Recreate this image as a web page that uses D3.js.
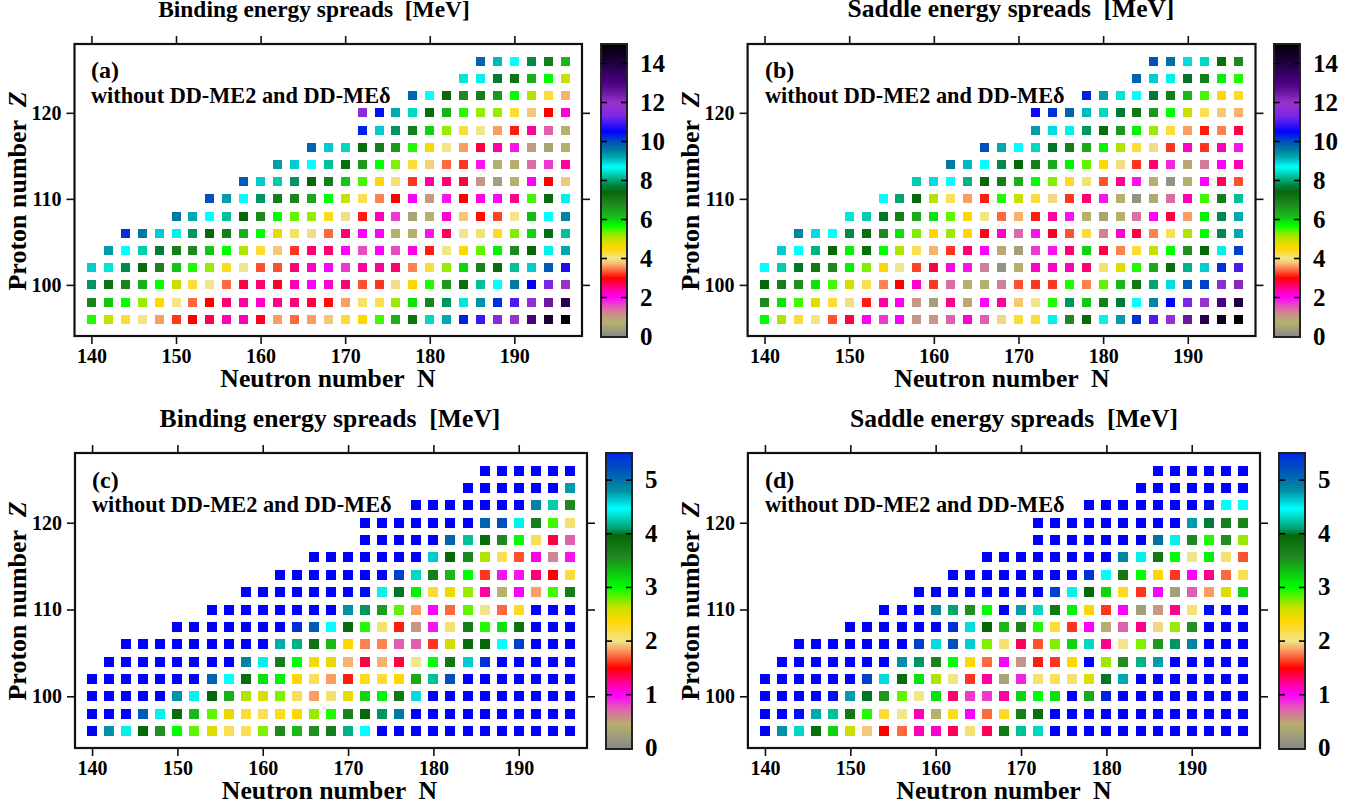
<!DOCTYPE html>
<html><head><meta charset="utf-8">
<script src="https://cdn.jsdelivr.net/npm/d3@7"></script>
<style>html,body{margin:0;padding:0;background:#fff}svg{display:block}text{font-family:"Liberation Serif",serif;font-weight:bold;fill:#000}</style>
</head><body><svg id="c" width="1372" height="810"></svg>
<script>
// Grid rows (Z) and first neutron number on each row
const protonRows=[96,98,100,102,104,106,108,110,112,114,116,118,120,122,124,126];
const rowStartN=[140,140,140,140,142,144,150,154,158,162,166,172,172,178,184,186];
const nTicks=[140,150,160,170,180,190];
const zTicks=[100,110,120];
const upperBarTicks=[0,2,4,6,8,10,12,14];
const lowerBarTicks=[0,1,2,3,4,5];
// Colour scale
const paletteValues=[0,0.7,1.1,1.5,2,2.4,2.8,3,3.3,3.6,3.8,4,4.3,4.5,5,5.3,5.7,6.2,6.8,7.4,7.7,8.2,8.7,9.2,9.6,10,10.5,11.3,12,12.5,13,14,15];
const paletteColors=["#888888","#b5b06e","#c89488","#e060b0","#ff00ff","#ff00a0","#ff0040","#ff0000","#ff5030","#fb9c60","#f5c878","#f2e488","#fbdc38","#ffd800","#c8e000","#80f000","#00ff00","#18b818","#208820","#066808","#007c38","#00c098","#00ffff","#00a8b0","#0078a0","#0050c0","#0000ff","#7a28e8","#9932cc","#6a18a0","#4b0082","#200040","#000000"];
const lowerBarValues=[0,0.45,0.74,1,1.2,1.5,1.83,2,2.38,2.63,3,3.57,3.97,4.1,4.47,4.8,5.16,5.5];
const lowerBarColors=["#888888","#b5b06e","#e060b0","#ff00ff","#ff00a0","#ff0000","#fb9c60","#f2e488","#ffd800","#c8e000","#00ff00","#208820","#066808","#00a070","#00ffff","#0090a0","#0058b8","#0028e8"];

// Panel (a) binding spreads, rows Z=96..126
const spreadA=[
[5.6,5.0,4.3,4.0,3.6,3.2,3.0,2.7,2.3,2.3,2.9,3.6,3.4,3.6,3.8,4.3,4.5,5.5,6.3,7.2,8.4,9.2,10.3,10.9,11.6,12,13,14.2,15],
[6.9,6.1,5.7,5.2,4.5,4.0,3.4,3.0,2.6,2.4,2.2,2.5,2.6,2.8,3.05,3.6,4.1,4.2,5.2,5.9,6.9,7.9,8.5,9.4,10.2,11,11.8,12.5,13.8],
[7.9,7.2,6.9,6.3,5.7,5.0,4.3,4.0,3.4,2.8,2.6,2.9,2.3,2.0,2.2,2.6,3.3,3.2,3.95,4.5,5.6,6.6,7.3,8.2,8.7,9.6,10.5,11.3,12],
[9.0,8.5,7.8,7.3,6.9,6.1,5.6,5.2,4.4,4.0,3.3,3.3,2.6,2.2,2.0,1.7,2.4,2.4,2.6,3.5,4.3,5.2,6.0,6.9,7.3,8.2,9.0,9.9,10.7],
[9.3,8.7,8.3,7.7,7.0,6.8,6.1,5.7,5.1,4.3,3.8,3.2,2.6,2.6,2.0,1.6,2.0,1.6,2.1,3.1,4.0,4.5,5.4,5.8,6.8,7.4,8.6,9.2],
[10.2,9.6,9,8.6,7.9,7.4,7,6.3,5.7,4.7,4.2,3.95,3.4,2.6,2.0,2.0,0.7,0.7,1.9,2.7,4.0,4.1,4.4,5.3,6.0,7.5,8.2],
[9.6,9.2,8.7,8.2,7.4,6.8,5.7,5.4,5.2,4.4,3.95,3.1,2.3,1.7,0.5,0.7,2.2,3.8,3.05,3.25,4.0,6.2,8.7,9.5],
[10,9.3,8.7,7.9,7,6.9,6.4,5.7,5.0,4.2,3.5,3,2.0,1.0,1.9,3,2.1,2,2.5,5.5,7.3,8.6],
[9.9,9.0,8.3,7.9,7.4,7.0,6.1,5.5,4.5,4.1,3.2,2.4,2.6,2.8,1.1,0.4,0.7,2.0,3.0,3.8],
[9.3,9,8.7,8.2,7.3,6.6,5.7,5.3,4.3,3.85,3.4,3.2,1.9,0.7,0.7,1.4,1.7,2.4],
[9.8,9,8.4,7.3,7,6.6,5.6,4.6,4,3.6,2.8,2.4,1.9,1.0,0.5,0.7],
[10.3,9,7.9,7,6,5.2,4.3,4,3.6,3.1,2.4,1.5,0.7],
[11.7,10.4,9.2,8.4,7.3,6.3,5.6,5.2,5.2,4.3,3.8,3.0,2.2],
[9.8,8.7,7.4,6.8,7,6.6,5.7,5.1,4.3,3.7],
[8.5,8.6,7.7,7.2,6.3,5.7,5],
[9.8,9.1,8.7,7.8,7,6.2]];

// Panel (b) saddle spreads
const spreadB=[
[5.7,5.1,4.3,4,3.3,2.8,2,1.7,2.0,1.1,1.05,1.5,2.2,1.5,3.9,4.3,4.3,8.6,6.8,7.4,8.6,9.3,10.2,11,11.9,12.5,13.8,14.5,15],
[6.8,5.9,5.5,4.8,4.3,3.95,3.1,2.4,2.1,1.05,0.4,2.5,0.85,2,2.4,3.8,4.0,5.6,7.9,6.1,7,7.7,8.7,9.5,10.5,11.3,12,13,14],
[7.4,7,6.7,5.9,5.5,4.9,4.2,3.5,3,2.2,3.2,1.4,0.7,0.7,1.25,3.3,3.2,3.2,5.6,3.5,5.4,6.2,7.1,8,8.9,9.9,10.1,11.7,12.2],
[8.7,8.3,7.6,7.1,6.8,5.8,5.3,4.5,4,3.25,2.8,2.1,1.9,1.25,0.2,0.7,2.2,2.2,2.3,2.6,4.1,4.8,5.6,6.4,7.3,8.1,9,10.2,11],
[9,8.7,8.1,7.4,5.8,7.3,5.7,5.1,4.2,3.7,3.2,2.6,2,0.85,0.4,1.7,1.9,2.6,6,2.8,3.5,4.3,5,5.7,6.7,7.4,8.6,10.1],
[9.5,8.9,8.7,7.8,7.3,6.8,5.9,5.3,4.5,5.2,4.5,2.9,2.2,1.45,1.9,2.9,3.3,4.3,1.25,2.2,2.8,3.5,4.2,5.1,5.7,7.8,9.2],
[8.5,8.3,7.6,7,6.4,5.9,5.4,4.5,4,3.4,3.7,3.1,2.4,1.9,0.7,0.5,0.7,1.35,2,2.8,3.6,5.8,7.8,9.2],
[8.7,8,7.4,5.1,4.2,3.6,3.1,5.6,5,4.3,3.9,3.2,2.6,1.9,0.7,0.2,0.6,1.4,2.3,5.5,7,8.2],
[8.3,8.9,8.7,8.1,7.4,7,6.3,5.7,5.3,4.4,4.1,3.3,2.5,1.9,0.7,0.2,0.7,2,2.7,3.3],
[9.6,9.1,8.7,7.8,7.4,7,6.4,5.8,5.4,4.5,3.95,3.2,2.6,1.8,0.85,1.3,2,2.3],
[10,9.2,8.7,8.4,7.6,7,6.4,5.8,5.1,4.3,3.95,3.2,2.2,3.2,2.3,1.9],
[9.3,8.9,8.6,7.9,7.3,6.6,5.8,5.2,4.3,3.6,3.1,3.5,2.8],
[10.6,10.2,9.8,9.1,8.4,7.7,7.1,6.6,5.7,5,4.2,3.8,3.7],
[10.3,9.3,8.5,8.7,7.7,7,6.2,5.5,4.5,4.4],
[9.8,9,8.6,7.6,7,5.8,5.6],
[10,9.7,8.9,8.4,7.3,6.8]];

// Panel (c) binding spreads, blue = above the scale top
const spreadC=[
[5.5,4.7,4.3,3.7,3.35,2.85,2.7,2.4,2.1,2.1,2.65,3.4,3.1,3.35,3.5,4.05,4.35,5.5,5.5,5.5,5.5,5.5,5.5,5.5,5.5,5.5,5.5,5.5,5.5],
[5.5,5.5,5.5,4.95,4.3,3.65,3.1,2.7,2.35,2.15,2.1,2.2,2.25,2.6,2.8,3.45,3.7,3.95,4.8,5.5,5.5,5.5,5.5,5.5,5.5,5.5,5.5,5.5,5.5],
[5.5,5.5,5.5,5.5,5.5,4.7,4.3,3.7,3.15,2.55,2.4,2.65,2.1,1.8,2.05,2.35,3,2.9,3.55,4.45,5.5,5.5,5.5,5.5,5.5,5.5,5.5,5.5,5.5],
[5.5,5.5,5.5,5.5,5.5,5.5,5.5,4.9,4.35,3.65,2.95,2.9,2.25,2.1,1.8,1.55,2.2,2.15,2.25,3.2,4.1,5,5.5,5.5,5.5,5.5,5.5,5.5,5.5],
[5.5,5.5,5.5,5.5,5.5,5.5,5.5,5.5,4.75,4.3,3.5,2.85,2.3,2.35,1.85,1.4,1.85,1.4,2,2.85,3.55,4.5,5.1,5.5,5.5,5.5,5.5,5.5],
[5.5,5.5,5.5,5.5,5.5,5.5,5.5,5.5,5.5,4.6,4.05,3.6,3.1,2.25,1.75,1.75,0.75,0.75,1.6,2.45,3.65,3.7,4.35,5.05,5.5,5.5,5.5],
[5.5,5.5,5.5,5.5,5.5,5.5,5.5,5.1,4.95,4.35,3.65,2.8,2.05,1.55,0.55,0.95,2.05,3.5,2.8,2.95,3.6,5.5,5.5,5.5],
[5.5,5.5,5.5,5.5,5.5,5.5,5.5,5.5,4.7,3.95,3.25,2.7,1.8,1,1.7,2.7,2,1.7,2.2,5.5,5.5,5.5],
[5.5,5.5,5.5,5.5,5.5,5.5,5.5,5.2,4.3,3.8,2.9,2.15,2.35,2.6,1.2,0.35,1,1.8,2.75,3.5],
[5.5,5.5,5.5,5.5,5.5,5.5,5.5,5.05,4.2,3.5,3.1,2.85,1.6,0.95,0.95,1.3,1.5,2.15],
[5.5,5.5,5.5,5.5,5.5,5.5,5.5,4.5,3.7,3.4,2.55,2.1,1.65,1.05,0.6,0.95],
[5.5,5.5,5.5,5.5,5.5,4.9,4.1,3.65,3.4,2.85,2.1,1.4,0.75],
[5.5,5.5,5.5,5.5,5.5,5.5,5.5,4.9,5,4.3,3.5,2.75,2.05],
[5.5,5.5,5.5,5.5,5.5,5.5,5.5,4.75,4.15,3.4],
[5.5,5.5,5.5,5.5,5.5,5.5,4.65],
[5.5,5.5,5.5,5.5,5.5,5.5]];

// Panel (d) saddle spreads
const spreadD=[
[5.5,4.7,4.2,3.65,3,2.5,1.9,1.5,1.7,1.15,1.1,1.35,2.05,1.35,3.55,4.1,4.2,5.5,5.5,5.5,5.5,5.5,5.5,5.5,5.5,5.5,5.5,5.5,5.5],
[5.5,5.5,5.2,4.6,4.1,3.55,2.8,2.15,2,1.15,0.35,2.2,1,1.7,2.2,3.5,3.65,5.5,5.5,5.5,5.5,5.5,5.5,5.5,5.5,5.5,5.5,5.5,5.5],
[5.5,5.5,5.5,5.5,5.2,4.65,3.8,3.3,2.7,2,2.95,1.3,0.85,0.85,1.2,3,2.85,2.95,5.5,3.2,5.15,5.5,5.5,5.5,5.5,5.5,5.5,5.5,5.5],
[5.5,5.5,5.5,5.5,5.5,5.5,5.05,4.45,3.65,2.95,2.55,2,1.6,1.2,0.25,0.9,2.05,2.1,2.05,2.4,3.8,4.6,5.5,5.5,5.5,5.5,5.5,5.5,5.5],
[5.5,5.5,5.5,5.5,5.5,5.5,5.5,4.7,3.95,3.45,2.85,2.25,1.7,1,0.55,1.55,1.6,2.25,5.5,2.6,3.35,4.05,4.65,5.5,5.5,5.5,5.5,5.5],
[5.5,5.5,5.5,5.5,5.5,5.5,5.5,5.05,4.45,5,4.5,2.65,2.05,1.35,1.65,2.65,3,4.2,1.25,2,2.65,3.3,3.95,4.75,5.5,5.5,5.5],
[5.5,5.5,5.5,5.5,5.5,5.5,5.1,4.45,3.7,3.1,3.45,2.8,2.15,1.6,1,0.4,0.75,1.25,1.95,2.6,3.35,5.5,5.5,5.5],
[5.5,5.5,5.5,4.75,4,3.35,2.85,5.5,4.65,4.2,3.55,2.9,2.25,1.6,1,0.2,0.5,1.25,2.05,5.2,5.5,5.5],
[5.5,5.5,5.5,5.5,5.5,5.5,5.5,5.5,5.05,4.3,3.7,3,2.2,1.6,1,0.2,0.75,1.8,2.4,3],
[5.5,5.5,5.5,5.5,5.5,5.5,5.5,5.5,5.1,4.35,3.55,2.85,2.25,1.6,1,1.25,1.7,2.1],
[5.5,5.5,5.5,5.5,5.5,5.5,5.5,5.5,4.75,4.3,3.55,2.85,2,2.9,2.05,1.65],
[5.5,5.5,5.5,5.5,5.5,5.5,5.5,4.85,4.3,3.4,2.8,3.35,2.6],
[5.5,5.5,5.5,5.5,5.5,5.5,5.5,5.5,5.5,4.65,3.85,3.5,3.45],
[5.5,5.5,5.5,5.5,5.5,5.5,5.5,5.2,4.35,4.35],
[5.5,5.5,5.5,5.5,5.5,5.5,5.5],
[5.5,5.5,5.5,5.5,5.5,5.5]];

const upperColor=d3.scaleLinear().domain(paletteValues).range(paletteColors).clamp(true).interpolate(d3.interpolateRgb);
const lowerValues=paletteValues.filter(v=>v<=10.5).map(v=>v/2);
const lowerColor=d3.scaleLinear().domain(lowerValues).range(paletteColors.slice(0,lowerValues.length)).clamp(true).interpolate(d3.interpolateRgb);
const lowerBarColor=d3.scaleLinear().domain(lowerBarValues).range(lowerBarColors).clamp(true).interpolate(d3.interpolateRgb);

const panels=[
 {tag:"(a)",title:"Binding energy spreads  [MeV]",data:spreadA,x0:74.5,x1:582,y0:336.5,y1:44,sq:9,color:upperColor,barColor:upperColor,barMax:15,barTicks:upperBarTicks,bx:601,tx:314,ty:17,titleFs:23.4,lab:91,xl:328,xly:387,yl:26,ylc:191,barlab:640,tagy:78,woy:103},
 {tag:"(b)",title:"Saddle energy spreads  [MeV]",data:spreadB,x0:747.6,x1:1255.5,y0:336.5,y1:44,sq:9,color:upperColor,barColor:upperColor,barMax:15,barTicks:upperBarTicks,bx:1274,tx:1011,ty:17,titleFs:25.5,lab:765,xl:1002,xly:387,yl:699,ylc:191,barlab:1313,tagy:78,woy:103},
 {tag:"(c)",title:"Binding energy spreads  [MeV]",data:spreadC,x0:75,x1:587,y0:748.4,y1:453.3,sq:10,color:lowerColor,barColor:lowerBarColor,barMax:5.5,barTicks:lowerBarTicks,bx:606,tx:330,ty:427,titleFs:25.6,lab:92,xl:329.5,xly:799,yl:26,ylc:601,barlab:645,tagy:488,woy:512},
 {tag:"(d)",title:"Saddle energy spreads  [MeV]",data:spreadD,x0:747.9,x1:1260,y0:748.4,y1:453.3,sq:10,color:lowerColor,barColor:lowerBarColor,barMax:5.5,barTicks:lowerBarTicks,bx:1279,tx:1014,ty:427,titleFs:25.6,lab:765,xl:1004,xly:799,yl:699,ylc:601,barlab:1318,tagy:488,woy:512}
];

const svg=d3.select("#c");
panels.forEach(p=>{
 const x=d3.scaleLinear().domain([138,198]).range([p.x0,p.x1]);
 const y=d3.scaleLinear().domain([94,128]).range([p.y0,p.y1]);
 const g=svg.append("g");
 const cells=[];
 p.data.forEach((row,i)=>row.forEach((v,j)=>cells.push({n:rowStartN[i]+2*j,z:protonRows[i],v})));
 g.selectAll("rect.cell").data(cells).join("rect").attr("class","cell")
  .attr("x",d=>Math.round(x(d.n)-p.sq/2)).attr("y",d=>Math.round(y(d.z)-p.sq/2))
  .attr("width",p.sq).attr("height",p.sq).attr("fill",d=>p.color(d.v));
 const fy0=Math.floor(p.y0), fy1=Math.floor(p.y1);
 g.append("rect").attr("x",p.x0).attr("y",fy1).attr("width",p.x1-p.x0).attr("height",fy0-fy1)
  .attr("fill","none").attr("stroke","#111").attr("stroke-width",2.2);
 const tf=s=>s.tickSize(8).tickPadding(5);
 const axes=[
  g.append("g").attr("transform",`translate(0,${fy0})`).call(tf(d3.axisBottom(x).tickValues(nTicks).tickFormat(d3.format("d")))),
  g.append("g").attr("transform",`translate(0,${fy1})`).call(d3.axisTop(x).tickValues(nTicks).tickSize(8).tickFormat("")),
  g.append("g").attr("transform",`translate(${p.x0},0)`).call(tf(d3.axisLeft(y).tickValues(zTicks).tickFormat(d3.format("d")))),
  g.append("g").attr("transform",`translate(${p.x1},0)`).call(d3.axisRight(y).tickValues(zTicks).tickSize(8).tickFormat(""))
 ];
 axes.forEach(a=>{a.select(".domain").remove();a.selectAll("line").attr("stroke","#111").attr("stroke-width",1.6);
  a.selectAll("text").style("font-family","'Liberation Serif',serif").style("font-weight","bold").style("font-size","20px").attr("fill","#000");});
 const T=(xx,yy,s,fs)=>g.append("text").attr("x",xx).attr("y",yy).attr("font-size",fs).text(s);
 T(p.tx,p.ty,p.title,p.titleFs).attr("text-anchor","middle").attr("xml:space","preserve");
 T(p.lab,p.tagy,p.tag,24);
 T(p.lab,p.woy,"without DD-ME2 and DD-MEδ",22.3);
 T(p.xl,p.xly,"Neutron number  N",25.7).attr("text-anchor","middle").attr("xml:space","preserve");
 const yl=g.append("text").attr("transform",`translate(${p.yl},${p.ylc}) rotate(-90)`).attr("text-anchor","middle").attr("font-size",26).attr("xml:space","preserve");
 yl.append("tspan").text("Proton number  ");
 yl.append("tspan").attr("font-style","italic").text("Z");
 // colour bar: one crisp row per pixel, no white bleeding between rows
 const by=d3.scaleLinear().domain([0,p.barMax]).range([p.y0,p.y1]);
 const barTop=Math.floor(p.y1), barBottom=Math.ceil(p.y0);
 const rows=d3.range(barTop,barBottom);
 g.selectAll("rect.bar").data(rows).join("rect").attr("class","bar")
  .attr("x",p.bx).attr("width",26).attr("y",d=>d).attr("height",1)
  .attr("shape-rendering","crispEdges")
  .attr("fill",d=>p.barColor(by.invert(d+0.5)));
 g.append("rect").attr("x",p.bx).attr("y",barTop).attr("width",26).attr("height",barBottom-barTop)
  .attr("fill","none").attr("stroke","#222").attr("stroke-width",2);
 p.barTicks.forEach(t=>{
  [[p.bx,p.bx+6],[p.bx+20,p.bx+26]].forEach(s=>{
   if(t>0) g.append("line").attr("x1",s[0]).attr("x2",s[1]).attr("y1",by(t)).attr("y2",by(t)).attr("stroke","#000").attr("stroke-width",1.6);
  });
  g.append("text").attr("x",p.barlab).attr("y",by(t)+8).attr("font-size",25).text(t);
 });
});
</script></body></html>
